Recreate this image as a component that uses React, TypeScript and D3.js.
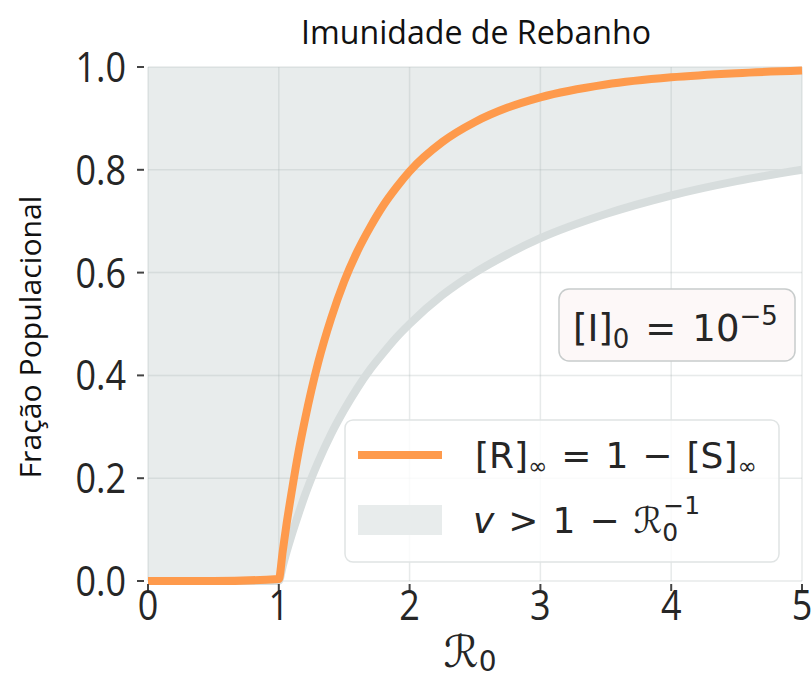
import React from "react";
import * as d3 from "d3";

const r0Values = [0, 0.5, 1, 1.03, 1.06, 1.1, 1.15, 1.2, 1.3, 1.4, 1.5, 1.6, 1.7, 1.8, 1.9, 2, 2.25, 2.5, 2.75, 3, 3.5, 4, 4.5, 5];
const recovered = [0, 0, 0.004, 0.058, 0.112, 0.176, 0.25, 0.314, 0.424, 0.511, 0.583, 0.641, 0.689, 0.731, 0.766, 0.797, 0.854, 0.893, 0.921, 0.941, 0.966, 0.98, 0.988, 0.993];
const threshold = [0, 0, 0, 0.029, 0.057, 0.091, 0.13, 0.167, 0.231, 0.286, 0.333, 0.375, 0.412, 0.444, 0.474, 0.5, 0.556, 0.6, 0.636, 0.667, 0.714, 0.75, 0.778, 0.8];
const xTicks = [0, 1, 2, 3, 4, 5];
const yTicks = [0, 0.2, 0.4, 0.6, 0.8, 1.0];

const ORANGE = "#fe9a4c";
const GRAYLINE = "#d7dddd";
const FILL = "#e8ecec";
const TXT = "#262626";

export default function App() {
  const W = 812, H = 680;
  const x = d3.scaleLinear().domain([0, 5]).range([148, 802]);
  const y = d3.scaleLinear().domain([0, 1]).range([581, 67]);
  const pts = r0Values.map((r, i) => ({ r, o: recovered[i], g: threshold[i] }));
  const area = d3.area<any>().x(d => x(d.r)).y0(d => y(d.g)).y1(() => y(1)).curve(d3.curveMonotoneX);
  const lineO = d3.line<any>().x(d => x(d.r)).y(d => y(d.o)).curve(d3.curveMonotoneX);
  const lineG = d3.line<any>().x(d => x(d.r)).y(d => y(d.g)).curve(d3.curveMonotoneX);
  const font = "'Open Sans', sans-serif";
  const math = "'DejaVu Sans', sans-serif";
  const SY = 1.15;
  return (
    <svg width={W} height={H} style={{ position: "absolute", left: 0, top: 0 }} xmlns="http://www.w3.org/2000/svg">
      <rect x={0} y={0} width={W} height={H} fill="#fff" />
      <path d={area(pts) || ""} fill={FILL} />
      {xTicks.map(t => (
        <line key={"gx" + t} x1={x(t)} x2={x(t)} y1={y(0)} y2={y(1)} stroke="rgba(170,180,180,0.28)" strokeWidth={1.5} />
      ))}
      {yTicks.map(t => (
        <line key={"gy" + t} x1={x(0)} x2={x(5)} y1={y(t)} y2={y(t)} stroke="rgba(170,180,180,0.28)" strokeWidth={1.5} />
      ))}
      <path d={lineG(pts) || ""} fill="none" stroke={GRAYLINE} strokeWidth={8} />
      <path d={lineO(pts) || ""} fill="none" stroke={ORANGE} strokeWidth={8} strokeLinejoin="miter" />
      {yTicks.map(t => (
        <g key={"yt" + t}>
          <line x1={137} x2={144} y1={y(t)} y2={y(t)} stroke="#444" strokeWidth={2} />
          <text transform={`translate(126,${y(t) + 15}) scale(1,${SY})`} textAnchor="end" fontFamily={font} fontSize={36} fill={TXT}>{t.toFixed(1)}</text>
        </g>
      ))}
      {xTicks.map(t => (
        <g key={"xt" + t}>
          <line x1={x(t)} x2={x(t)} y1={584} y2={591} stroke="#444" strokeWidth={2} />
          <text transform={`translate(${x(t)},620) scale(1,${SY})`} textAnchor="middle" fontFamily={font} fontSize={36} fill={TXT}>{t}</text>
        </g>
      ))}
      <text transform={`translate(476,44) scale(1,${SY})`} textAnchor="middle" fontFamily={font} fontSize={29} fill="#111" textLength={350} lengthAdjust="spacingAndGlyphs">Imunidade de Rebanho</text>
      <text transform="translate(41,337) rotate(-90) scale(1,1.1)" textAnchor="middle" fontFamily={font} fontSize={26} fill="#111" textLength={283} lengthAdjust="spacingAndGlyphs">Fração Populacional</text>
      <text x={470} y={667} textAnchor="middle" fontFamily={math} fontSize={44} fill={TXT}>ℛ<tspan fontSize={28} dy={4}>0</tspan></text>
      {/* I0 box */}
      <rect x={559} y={289} width={236} height={72} rx={10} fill="#fdf8f8" stroke="#c8cccc" strokeWidth={1.5} />
      <text x={573} y={341} fontFamily={math} fontSize={37} fill={TXT}>[I]<tspan fontSize={26} dy={7}>0</tspan><tspan dy={-7} dx={16}>=</tspan><tspan dx={16}>10</tspan><tspan fontSize={26} dy={-16}>−5</tspan></text>
      {/* legend */}
      <rect x={345} y={420} width={434} height={142} rx={8} fill="rgba(255,255,255,0.8)" stroke="#e0e4e4" strokeWidth={1.5} />
      <line x1={358} x2={442} y1={455} y2={455} stroke={ORANGE} strokeWidth={8} />
      <text x={475} y={468} fontFamily={math} fontSize={36} fill={TXT}>[R]<tspan fontSize={23} dy={6}>∞</tspan><tspan dy={-6} dx={14}>=</tspan><tspan dx={14}>1</tspan><tspan dx={14}>−</tspan><tspan dx={14}>[S]</tspan><tspan fontSize={23} dy={6}>∞</tspan></text>
      <rect x={358} y={505} width={84} height={30} fill={FILL} />
      <text x={473} y={533} fontFamily={math} fontSize={36} fill={TXT}><tspan fontStyle="italic">v</tspan><tspan dx={14}>&gt;</tspan><tspan dx={14}>1</tspan><tspan dx={14}>−</tspan><tspan dx={14}>ℛ</tspan><tspan fontSize={25} dy={8}>0</tspan><tspan fontSize={25} dx={-15} dy={-27}>−1</tspan></text>
    </svg>
  );
}
